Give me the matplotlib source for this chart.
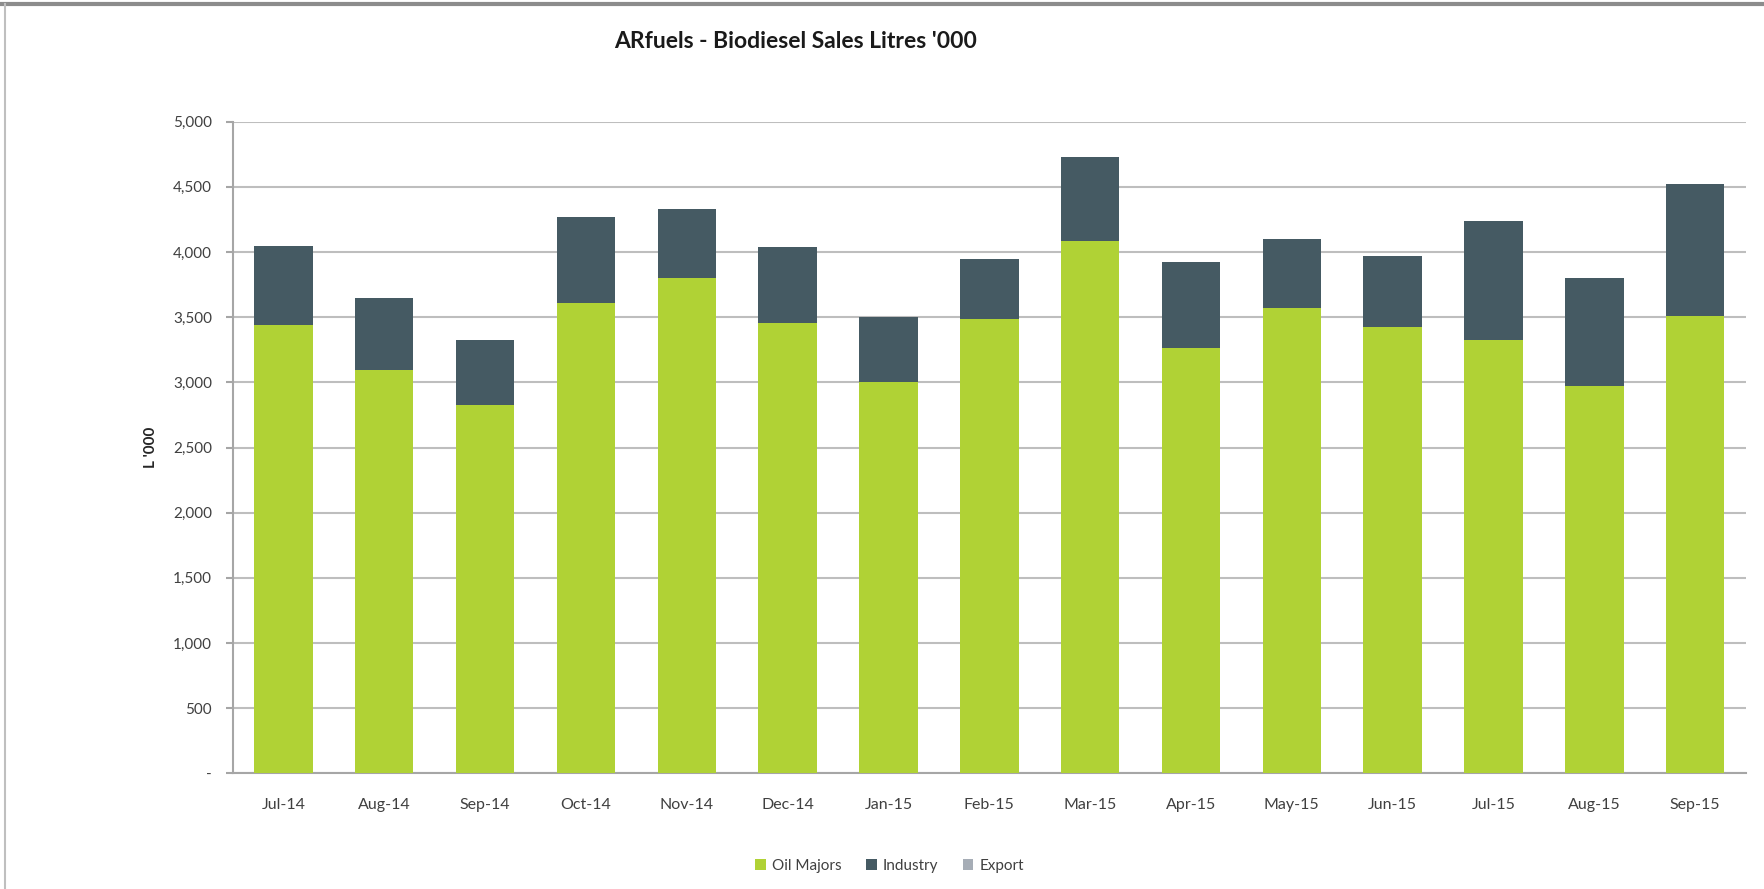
import matplotlib
matplotlib.use("Agg")
import matplotlib.pyplot as plt
from matplotlib.lines import Line2D
from matplotlib.ticker import FuncFormatter, MultipleLocator
import numpy as np

months = ["Jul-14", "Aug-14", "Sep-14", "Oct-14", "Nov-14", "Dec-14", "Jan-15", "Feb-15",
          "Mar-15", "Apr-15", "May-15", "Jun-15", "Jul-15", "Aug-15", "Sep-15"]
oil_majors = [3437, 3095, 2826, 3606, 3800, 3452, 3000, 3488,
              4081, 3263, 3570, 3424, 3322, 2972, 3509]
totals = [4045, 3647, 3322, 4265, 4331, 4038, 3501, 3948,
          4725, 3923, 4099, 3969, 4239, 3802, 4523]
industry = [t - o for t, o in zip(totals, oil_majors)]
export = [0] * len(months)

c_oil = "#B0D235"
c_ind = "#455A63"
c_exp = "#A6ADB6"

plt.rcParams['font.family'] = ['Lato', 'DejaVu Sans']

fig = plt.figure(figsize=(17.65, 8.89), dpi=100)
ax = fig.add_axes([0.132, 0.130, 0.857, 0.7332])

x = np.arange(len(months))
w = 0.58
ax.bar(x, oil_majors, w, color=c_oil, label="Oil Majors", zorder=3)
ax.bar(x, industry, w, bottom=oil_majors, color=c_ind, label="Industry", zorder=3)
ax.bar(x, export, w, bottom=totals, color=c_exp, label="Export", zorder=3)

ax.set_xlim(-0.5, len(months) - 0.5)
ax.set_ylim(0, 5000)
ax.yaxis.set_major_locator(MultipleLocator(500))
ax.yaxis.set_major_formatter(FuncFormatter(lambda v, p: "-" if v == 0 else f"{int(v):,}"))
ax.set_xticks(x)
ax.set_xticklabels(months)

ax.grid(axis='y', color="#BEBEBE", linewidth=1.5, zorder=0)
for s in ['top', 'right']:
    ax.spines[s].set_visible(False)
for s in ['left', 'bottom']:
    ax.spines[s].set_color("#A6A6A6")
    ax.spines[s].set_linewidth(1.5)
ax.tick_params(axis='y', length=5, width=1.5, color="#A6A6A6", labelsize=11,
               labelcolor="#404040", pad=10)
ax.tick_params(axis='x', length=0, labelsize=11.5, labelcolor="#404040", pad=18)

ax.set_ylabel("L '000", fontsize=11, fontweight='bold', color="#262626", labelpad=11)

fig.text(0.451, 0.953, "ARfuels - Biodiesel Sales Litres '000", ha='center', va='center',
         fontsize=16.5, fontweight='bold', color="#1a1a1a")

leg = fig.legend(loc='center', bbox_to_anchor=(0.504, 0.026), ncol=3, frameon=False,
                 fontsize=11, handlelength=0.7, handleheight=0.7, handletextpad=0.4,
                 columnspacing=1.6)
for t in leg.get_texts():
    t.set_color("#404040")

fig.add_artist(Line2D([0, 1], [0.996, 0.996], transform=fig.transFigure, color="#8C8C8C", linewidth=3))
fig.add_artist(Line2D([0.003, 0.003], [0, 0.996], transform=fig.transFigure, color="#BFBFBF", linewidth=1.5))

fig.savefig("out.png", dpi=100)
